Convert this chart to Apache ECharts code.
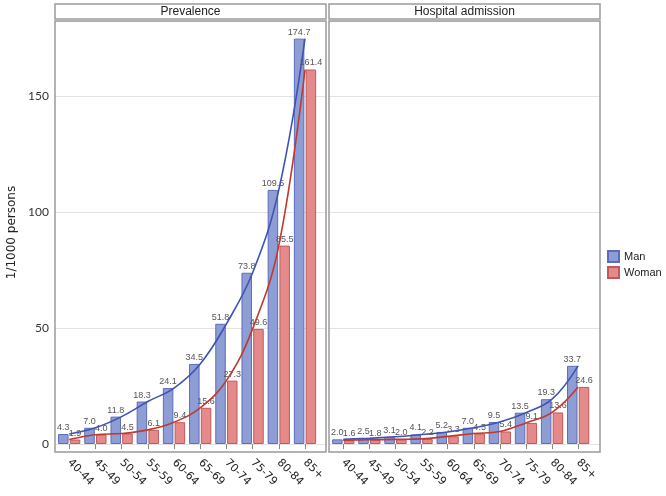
<!DOCTYPE html>
<html><head><meta charset="utf-8">
<script src="https://cdn.jsdelivr.net/npm/echarts@6/dist/echarts.min.js"></script>
<style>html,body{margin:0;padding:0;background:#fff}#c{width:666px;height:496px}</style>
</head><body><div id="c"></div>
<script>
const categories = ['40-44','45-49','50-54','55-59','60-64','65-69','70-74','75-79','80-84','85+'];
const prevalenceMan   = [4.3, 7.0, 11.8, 18.3, 24.1, 34.5, 51.8, 73.8, 109.5, 174.7];
const prevalenceWoman = [1.9, 4.0, 4.5, 6.1, 9.4, 15.6, 27.3, 49.6, 85.5, 161.4];
const admissionMan    = [2.0, 2.5, 3.1, 4.1, 5.2, 7.0, 9.5, 13.5, 19.3, 33.7];
const admissionWoman  = [1.6, 1.8, 2.0, 2.2, 3.3, 4.5, 5.4, 9.1, 13.6, 24.6];
const panelTitles = ['Prevalence', 'Hospital admission'];

const chart = echarts.init(document.getElementById('c'));
const YMAX = 182.3;
const FONT = 'Liberation Sans Narrow, Liberation Sans, DejaVu Sans Condensed, sans-serif';
const blueFill = '#8e9dd4', blueBorder = '#5b6dbd', blueLine = '#3e54b4';
const redFill = '#e58a8a', redBorder = '#c45858', redLine = '#bd3a2f';

const panels = [{left: 55, right: 326}, {left: 329, right: 600}];
const barGrids = [{left: 56.1, width: 262}, {left: 330.2, width: 261}];
const TOP = 21, ZERO = 444, BOTTOM = 452;

const grid = [], xAxis = [], yAxis = [], series = [];
panels.forEach((p, i) => {
  grid.push({left: p.left, top: TOP, width: p.right - p.left, height: ZERO - TOP, show: false});
  xAxis.push({type: 'value', gridIndex: i, min: 0, max: 1, show: false});
  yAxis.push({
    type: 'value', gridIndex: i, min: 0, max: YMAX, interval: 50,
    axisLine: {show: false}, axisTick: {show: false},
    axisLabel: {show: i === 0, showMaxLabel: false, color: '#333', fontSize: 12, margin: 6, fontFamily: 'Lato, DejaVu Sans, sans-serif'},
    splitLine: {lineStyle: {color: '#e3e3e3', width: 1}},
    name: i === 0 ? '1/1000 persons' : '', nameLocation: 'middle', nameGap: 37,
    nameTextStyle: {fontSize: 12, color: '#222', fontFamily: 'DejaVu Sans, sans-serif'}
  });
});
barGrids.forEach((g, i) => {
  const gi = i + 2;
  grid.push({left: g.left, top: TOP, width: g.width, height: ZERO - TOP, show: false});
  xAxis.push({
    type: 'category', gridIndex: gi, data: categories, offset: BOTTOM - ZERO,
    axisLine: {show: false},
    axisTick: {show: true, alignWithLabel: true, length: 5, lineStyle: {color: '#888', width: 1}},
    axisLabel: {rotate: -45, color: '#222', fontSize: 11, margin: 9, interval: 0, fontFamily: 'DejaVu Sans, sans-serif'}
  });
  yAxis.push({type: 'value', gridIndex: gi, min: 0, max: YMAX, show: false, splitLine: {show: false}});
});

const datasets = [[prevalenceMan, prevalenceWoman], [admissionMan, admissionWoman]];
const lbl = {show: true, position: 'top', distance: 2, fontSize: 9, color: '#555', fontFamily: FONT,
  formatter: p => Number(p.value).toFixed(1)};
datasets.forEach((d, i) => {
  const gi = i + 2;
  series.push({name: 'Man', type: 'bar', xAxisIndex: gi, yAxisIndex: gi, data: d[0], barWidth: 10.5, barGap: '12%',
    itemStyle: {color: blueFill, borderColor: blueBorder, borderWidth: 1}, label: lbl, z: 2});
  series.push({name: 'Woman', type: 'bar', xAxisIndex: gi, yAxisIndex: gi, data: d[1], barWidth: 10.5, barGap: '12%',
    itemStyle: {color: redFill, borderColor: redBorder, borderWidth: 1}, label: lbl, z: 2});
  series.push({name: 'Man trend', type: 'line', xAxisIndex: gi, yAxisIndex: gi, data: d[0], smooth: 0.4,
    symbol: 'none', lineStyle: {color: blueLine, width: 1.6}, z: 3, silent: true});
  series.push({name: 'Woman trend', type: 'line', xAxisIndex: gi, yAxisIndex: gi, data: d[1], smooth: 0.4,
    symbol: 'none', lineStyle: {color: redLine, width: 1.6}, z: 3, silent: true});
});

const graphic = [];
panels.forEach((p, i) => {
  graphic.push({type: 'rect', z: 100, shape: {x: p.left, y: TOP, width: p.right - p.left, height: BOTTOM - TOP},
    style: {fill: 'none', stroke: '#9a9a9a', lineWidth: 1.5}});
  graphic.push({type: 'rect', z: 100, shape: {x: p.left, y: 4, width: p.right - p.left, height: 15},
    style: {fill: '#fff', stroke: '#9a9a9a', lineWidth: 1.5}});
  graphic.push({type: 'text', z: 101, x: (p.left + p.right) / 2, y: 11.5,
    style: {text: panelTitles[i], fill: '#222', fontSize: 12, fontFamily: FONT, align: 'center', verticalAlign: 'middle'}});
});

chart.setOption({
  animation: false,
  grid, xAxis, yAxis, series, graphic,
  legend: {data: ['Man', 'Woman'], orient: 'vertical', left: 602, top: 245, itemWidth: 11, itemHeight: 11, itemGap: 3,
    icon: 'rect', textStyle: {fontSize: 11, color: '#222', fontFamily: 'Liberation Sans, Arial, sans-serif'}, selectedMode: false}
});
</script></body></html>
